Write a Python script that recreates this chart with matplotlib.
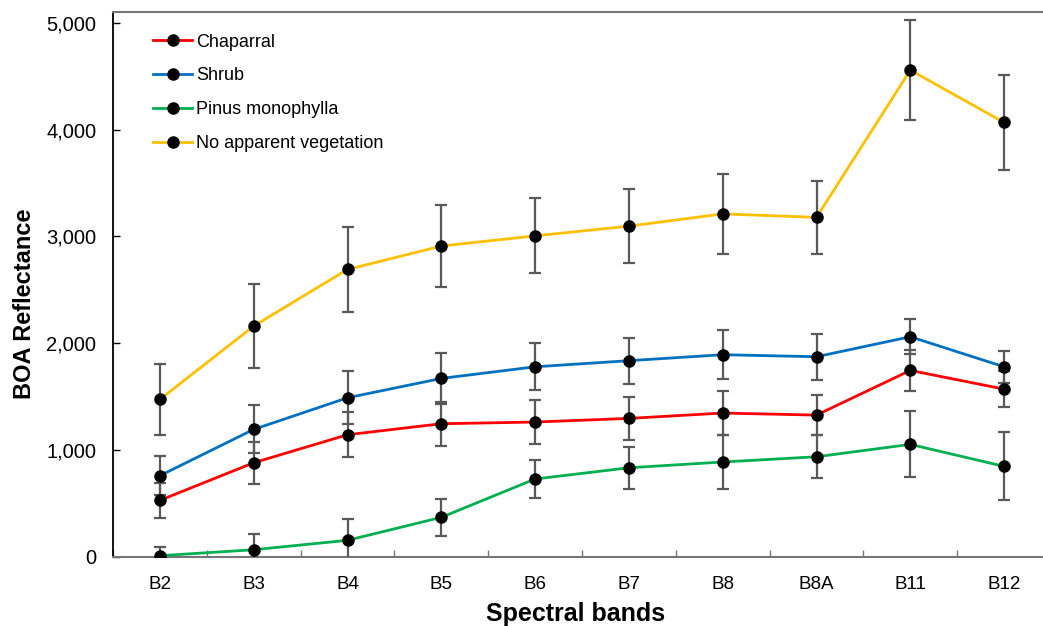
import matplotlib.pyplot as plt
from matplotlib.ticker import FuncFormatter, FixedLocator

plt.rcParams['font.family'] = ['Liberation Sans', 'DejaVu Sans']

bands = ["B2", "B3", "B4", "B5", "B6", "B7", "B8", "B8A", "B11", "B12"]

chaparral = [530, 882, 1144, 1247, 1263, 1297, 1347, 1328, 1746, 1571]
chaparral_err = [165, 195, 210, 205, 205, 200, 205, 190, 190, 170]

shrub = [761, 1194, 1490, 1671, 1780, 1837, 1893, 1874, 2061, 1780]
shrub_err = [180, 225, 250, 240, 220, 215, 230, 215, 165, 150]

pinus = [12, 68, 156, 371, 730, 835, 889, 938, 1054, 848]
pinus_err = [85, 145, 195, 170, 180, 195, 250, 200, 310, 318]

no_veg = [1475, 2161, 2691, 2910, 3005, 3096, 3211, 3178, 4556, 4066]
no_veg_err = [335, 390, 400, 380, 350, 345, 375, 340, 470, 445]

series = [
    ("Chaparral", chaparral, chaparral_err, "#FF0000"),
    ("Shrub", shrub, shrub_err, "#0070C0"),
    ("Pinus monophylla", pinus, pinus_err, "#00B050"),
    ("No apparent vegetation", no_veg, no_veg_err, "#FFC000"),
]

fig = plt.figure(figsize=(10.43, 6.26), dpi=100)
# axes runs a bit past the right edge, like the original crop
ax = fig.add_axes([113 / 1043, 69 / 626, 938 / 1043, 545 / 626])

x = list(range(len(bands)))
for nome, vals, err, cor in series:
    ax.errorbar(x, vals, yerr=err, fmt="none", ecolor="#595959",
                elinewidth=1.6, capsize=4.5, capthick=1.6, zorder=3)
    ax.plot(x, vals, color=cor, lw=2, marker="o", ms=8,
            mfc="black", mec="black", label=nome, zorder=4)

ax.set_xlim(-0.5, 9.5)
ax.set_ylim(0, 5100)
ax.set_yticks([0, 1000, 2000, 3000, 4000, 5000])
ax.yaxis.set_major_formatter(FuncFormatter(lambda v, p: f"{int(v):,}"))

ax.set_xticks(x)
ax.set_xticklabels(bands)
ax.xaxis.set_minor_locator(FixedLocator([i + 0.5 for i in range(-1, 10)]))
ax.tick_params(axis="x", which="major", length=0, pad=14, labelsize=13.5)
ax.tick_params(axis="x", which="minor", direction="in", length=5,
               color="#767676", width=1)
ax.tick_params(axis="y", direction="in", length=5, width=1,
               labelsize=14.5, pad=12)

ax.spines["left"].set_color("black")
ax.spines["left"].set_linewidth(1.3)
for s in ["top", "bottom"]:
    ax.spines[s].set_color("#767676")
    ax.spines[s].set_linewidth(1.5)
ax.spines["right"].set_visible(False)

ax.set_xlabel("Spectral bands", fontsize=18, fontweight="bold")
ax.xaxis.set_label_coords(0.4936, -0.083)
ax.set_ylabel("BOA Reflectance", fontsize=17, fontweight="bold")
ax.yaxis.set_label_coords(-0.082, 0.464)

leg = ax.legend(loc="upper left", frameon=False, fontsize=13,
                bbox_to_anchor=(0.025, 0.99), handlelength=2.2,
                handletextpad=0.22, labelspacing=0.93)

fig.savefig("out.png", dpi=100)
